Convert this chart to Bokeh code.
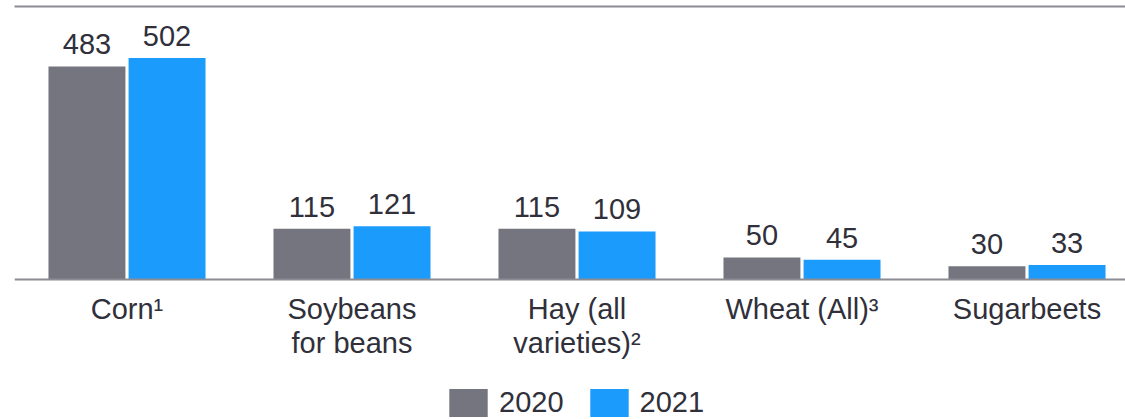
from bokeh.plotting import figure
from bokeh.models import (ColumnDataSource, Range1d, LinearAxis, FixedTicker,
                          Legend, LegendItem, LabelSet, Span)
from bokeh.core.properties import value
from bokeh.transform import dodge
from bokeh.embed import file_html
from bokeh.resources import INLINE

categories = ["Corn¹", "Soybeans\nfor beans", "Hay (all\nvarieties)²", "Wheat (All)³", "Sugarbeets"]
years = ["2020", "2021"]
values_2020 = [483, 115, 115, 50, 30]
values_2021 = [502, 121, 109, 45, 33]
colors = ["#75757f", "#1b9bfc"]

FONT = "Liberation Sans"
FS = "29px"
TEXT_COLOR = "#30303a"
LINE_COLOR = "#8c8c94"

idx = list(range(len(categories)))
lines = [c.split("\n") + [""] for c in categories]
src = ColumnDataSource(dict(x=idx, zero=[0] * len(idx),
                            cat1=[l[0] for l in lines], cat2=[l[1] for l in lines],
                            v2020=values_2020, v2021=values_2021,
                            l2020=[str(v) for v in values_2020],
                            l2021=[str(v) for v in values_2021]))

p = figure(width=1125, height=419, output_backend="svg",
           toolbar_location=None, x_range=Range1d(-0.5, 4.4378),
           y_range=Range1d(-317.3, 618.8), min_border_left=14, min_border_right=0,
           min_border_top=6, min_border_bottom=0, x_axis_location=None,
           y_axis_location=None)
p.outline_line_color = None
p.xgrid.visible = False
p.ygrid.visible = False

off = 0.178
w = 0.342
r1 = p.vbar(x=dodge("x", -off, range=p.x_range), top="v2020", width=w, source=src,
            fill_color=colors[0], line_color=None)
r2 = p.vbar(x=dodge("x", off, range=p.x_range), top="v2021", width=w, source=src,
            fill_color=colors[1], line_color=None)

p.add_layout(Span(location=0, dimension="width", line_color=LINE_COLOR, line_width=2))

for col, lab, o in [("v2020", "l2020", -off), ("v2021", "l2021", off)]:
    p.add_layout(LabelSet(x=dodge("x", o, range=p.x_range), y=col, text=lab, source=src,
                          text_align="center", text_baseline="alphabetic", y_offset=12,
                          text_font=value(FONT), text_font_size=value(FS),
                          text_color=TEXT_COLOR))

for col, yo in [("cat1", -13), ("cat2", -47)]:
    p.add_layout(LabelSet(x="x", y="zero", text=col, source=src, text_align="center",
                          text_baseline="top", y_offset=yo, text_font=value(FONT),
                          text_font_size=value(FS), text_color=TEXT_COLOR))

top = LinearAxis(ticker=FixedTicker(ticks=[]), major_tick_line_color=None,
                 minor_tick_line_color=None, major_label_standoff=0,
                 major_tick_out=0, axis_line_color=LINE_COLOR, axis_line_width=2)
p.add_layout(top, "above")

legend = Legend(items=[LegendItem(label=years[0], renderers=[r1]),
                       LegendItem(label=years[1], renderers=[r2])],
                orientation="horizontal", location=(430, -1),
                glyph_width=48, glyph_height=35, label_standoff=7, spacing=21,
                label_text_font=FONT, label_text_font_size=FS,
                label_text_color=TEXT_COLOR, border_line_color=None,
                background_fill_alpha=0, padding=0, margin=0)
p.add_layout(legend, "center")

open("out.html", "w").write(file_html(p, INLINE))
